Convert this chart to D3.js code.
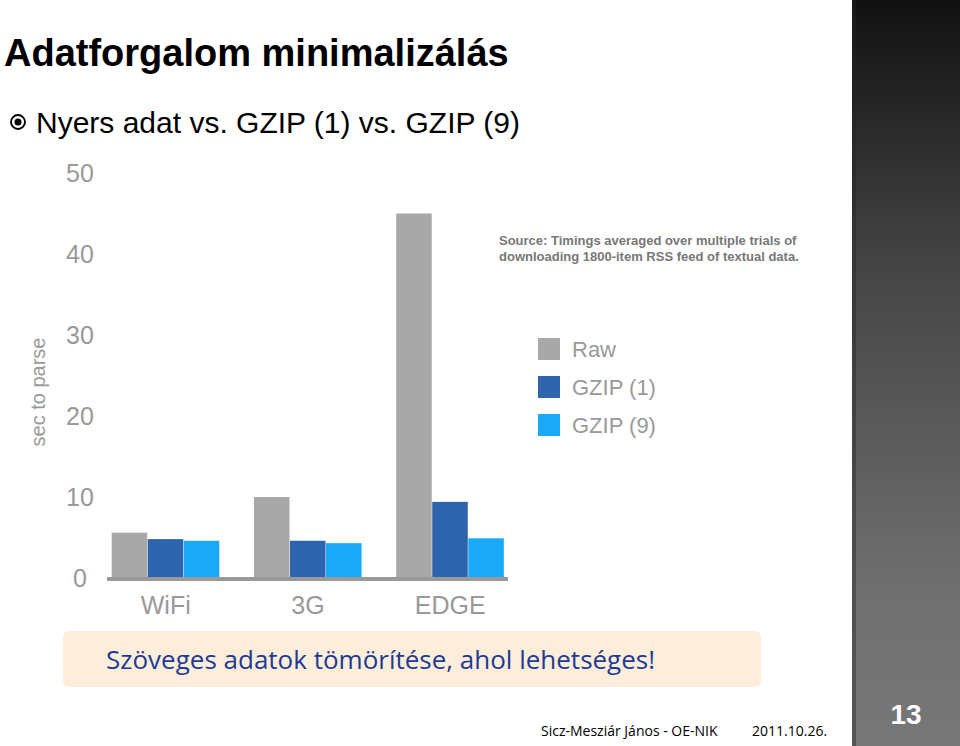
<!DOCTYPE html><html><head><meta charset="utf-8"><script src="https://cdn.jsdelivr.net/npm/d3@7"></script>
<style>body{margin:0;background:#fff}svg{display:block}</style></head><body><svg id="c" width="960" height="746"></svg>
<script>
const categories=["WiFi","3G","EDGE"];
const series=["Raw","GZIP (1)","GZIP (9)"];
const raw=[5.6,10,45];
const gzip1=[4.8,4.6,9.4];
const gzip9=[4.6,4.3,4.9];
const yTicks=[0,10,20,30,40,50];
const colors=["#a8a8a8","#2e63ad","#19a9f6"];
const svg=d3.select("#c");
const defs=svg.append("defs");
const g1=defs.append("linearGradient").attr("id","sb").attr("x1",0).attr("y1",0).attr("x2",0).attr("y2",1);
g1.append("stop").attr("offset","0").attr("stop-color","#111");
g1.append("stop").attr("offset","0.35").attr("stop-color","#444");
g1.append("stop").attr("offset","0.8").attr("stop-color","#707070");
g1.append("stop").attr("offset","1").attr("stop-color","#777");
svg.append("rect").attr("x",852).attr("y",0).attr("width",108).attr("height",746).attr("fill","url(#sb)");
svg.append("rect").attr("x",852).attr("y",0).attr("width",4).attr("height",746).attr("fill","#222").attr("opacity",0.4);
svg.append("text").attr("x",906).attr("y",724).attr("text-anchor","middle").attr("font-family","Liberation Sans, Arial").attr("font-weight","bold").attr("font-size",28).attr("fill","#fff").text("13");
svg.append("text").attr("x",4).attr("y",66).attr("font-family","Liberation Sans, Arial").attr("font-weight","bold").attr("font-size",38).attr("fill","#000").text("Adatforgalom minimalizálás");
svg.append("circle").attr("cx",18).attr("cy",122).attr("r",7).attr("fill","none").attr("stroke","#000").attr("stroke-width",1.8);
svg.append("circle").attr("cx",18).attr("cy",122).attr("r",3.5).attr("fill","#000");
svg.append("text").attr("x",36).attr("y",133).attr("font-family","Liberation Sans, Arial").attr("font-size",30).text("Nyers adat vs. GZIP (1) vs. GZIP (9)");
const y=d3.scaleLinear().domain([0,50]).range([578,173]);
const x0=d3.scaleBand().domain(categories).range([106,510]).paddingInner(0.24).paddingOuter(0.04);
const x1=d3.scaleBand().domain(series).range([0,x0.bandwidth()]);
const font="Liberation Sans, Arial";
yTicks.forEach(t=>svg.append("text").attr("x",80).attr("y",y(t)+9).attr("text-anchor","middle").attr("font-family",font).attr("font-size",25).attr("fill","#999").text(t));
svg.append("text").attr("transform","translate(45,392) rotate(-90)").attr("text-anchor","middle").attr("font-family",font).attr("font-size",20).attr("fill","#999").text("sec to parse");
const vals=[raw,gzip1,gzip9];
categories.forEach((c,i)=>series.forEach((s,j)=>{
 svg.append("rect").attr("x",x0(c)+x1(s)).attr("y",y(vals[j][i])).attr("width",x1.bandwidth()-0.5).attr("height",y(0)-y(vals[j][i])).attr("fill",colors[j]);
}));
svg.append("line").attr("x1",107).attr("x2",508).attr("y1",579).attr("y2",579).attr("stroke","#999").attr("stroke-width",4);
categories.forEach(c=>svg.append("text").attr("x",x0(c)+x0.bandwidth()/2).attr("y",614).attr("text-anchor","middle").attr("font-family",font).attr("font-size",25).attr("fill","#999").text(c));
series.forEach((s,j)=>{
 svg.append("rect").attr("x",538).attr("y",338+j*38).attr("width",22).attr("height",22).attr("fill",colors[j]);
 svg.append("text").attr("x",572).attr("y",357+j*38).attr("font-family",font).attr("font-size",22).attr("fill","#999").text(s);
});
svg.append("text").attr("x",499).attr("y",245).attr("font-family",font).attr("font-size",13).attr("font-weight","bold").attr("fill","#777").text("Source: Timings averaged over multiple trials of");
svg.append("text").attr("x",499).attr("y",261).attr("font-family",font).attr("font-size",13).attr("font-weight","bold").attr("fill","#777").text("downloading 1800-item RSS feed of textual data.");
svg.append("rect").attr("x",63).attr("y",631).attr("width",698).attr("height",56).attr("rx",6).attr("fill","#fdeedb");
svg.append("text").attr("x",106).attr("y",669).attr("font-family","Open Sans, Liberation Sans").attr("font-size",26).attr("fill","#1f3a93").text("Szöveges adatok tömörítése, ahol lehetséges!");
svg.append("text").attr("x",541).attr("y",736).attr("font-family","Open Sans, Liberation Sans").attr("font-size",14).attr("fill","#000").text("Sicz-Mesziár János - OE-NIK");
svg.append("text").attr("x",752).attr("y",736).attr("font-family","Open Sans, Liberation Sans").attr("font-size",14).attr("fill","#000").text("2011.10.26.");
</script></body></html>
